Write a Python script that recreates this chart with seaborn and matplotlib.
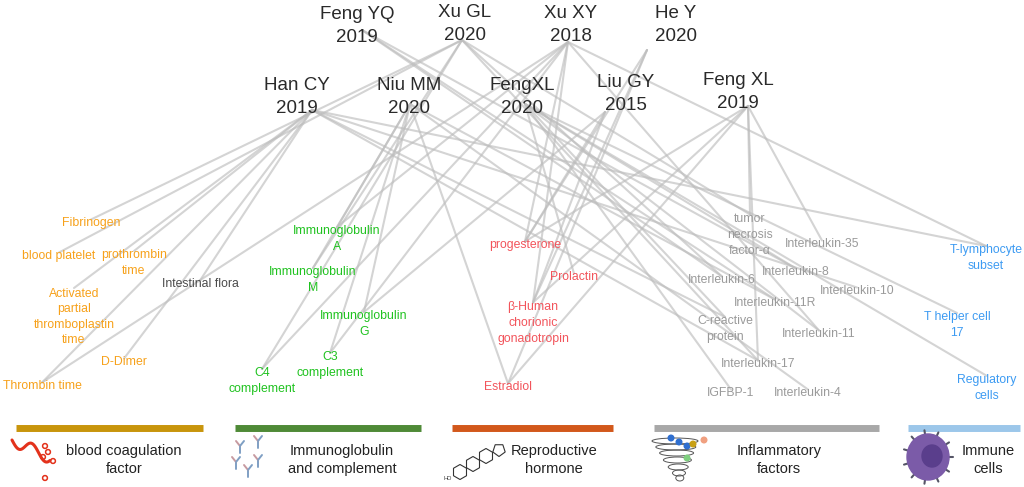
import numpy as np
import pandas as pd
import matplotlib
matplotlib.use("Agg")
import matplotlib.pyplot as plt
import seaborn as sns
from matplotlib.patches import Ellipse, Circle, RegularPolygon

# ---------------- data ----------------
authors = ["Feng YQ\n2019", "Xu GL\n2020", "Xu XY\n2018", "He Y\n2020",
           "Han CY\n2019", "Niu MM\n2020", "FengXL\n2020", "Liu GY\n2015", "Feng XL\n2019"]

factors = ["Fibrinogen", "blood platelet", "prothrombin\ntime",
           "Activated\npartial\nthromboplastin\ntime", "D-Dimer", "Thrombin time",
           "Intestinal flora",
           "Immunoglobulin\nA", "Immunoglobulin\nM", "Immunoglobulin\nG",
           "C3\ncomplement", "C4\ncomplement",
           "progesterone", "Prolactin", "β-Human\nchorionic\ngonadotropin", "Estradiol",
           "tumor\nnecrosis\nfactor-α", "Interleukin-35", "Interleukin-8", "Interleukin-6",
           "Interleukin-10", "Interleukin-11R", "C-reactive\nprotein", "Interleukin-11",
           "Interleukin-17", "IGFBP-1", "Interleukin-4",
           "T-lymphocyte\nsubset", "T helper cell\n17", "Regulatory\ncells"]

factor_group = ["coag"] * 6 + ["other"] + ["ig"] * 5 + ["rep"] * 4 + ["inf"] * 11 + ["imm"] * 3

edges = {
    "Feng YQ\n2019": ["Interleukin-8", "Interleukin-11R", "Interleukin-6"],
    "Xu GL\n2020": ["Fibrinogen", "blood platelet", "Immunoglobulin\nM", "C4\ncomplement",
                    "Interleukin-6", "Interleukin-17", "tumor\nnecrosis\nfactor-α"],
    "Xu XY\n2018": ["Immunoglobulin\nA", "C3\ncomplement", "C4\ncomplement", "Thrombin time",
                    "progesterone", "β-Human\nchorionic\ngonadotropin",
                    "T-lymphocyte\nsubset", "Interleukin-11"],
    "He Y\n2020": ["progesterone", "β-Human\nchorionic\ngonadotropin", "Estradiol"],
    "Han CY\n2019": ["prothrombin\ntime", "Activated\npartial\nthromboplastin\ntime", "D-Dimer",
                     "Thrombin time", "Intestinal flora", "C-reactive\nprotein",
                     "Interleukin-10", "T-lymphocyte\nsubset", "Interleukin-17"],
    "Niu MM\n2020": ["Immunoglobulin\nA", "Immunoglobulin\nM", "Immunoglobulin\nG",
                     "C3\ncomplement", "Estradiol", "Interleukin-4", "Interleukin-11R"],
    "FengXL\n2020": ["Prolactin", "IGFBP-1", "Interleukin-8", "Interleukin-11",
                     "Regulatory\ncells", "T helper cell\n17", "C-reactive\nprotein"],
    "Liu GY\n2015": ["progesterone", "β-Human\nchorionic\ngonadotropin", "Immunoglobulin\nG"],
    "Feng XL\n2019": ["tumor\nnecrosis\nfactor-α", "Interleukin-35", "Interleukin-17",
                      "progesterone", "β-Human\nchorionic\ngonadotropin", "Estradiol"],
}

legend_labels = ["blood coagulation\nfactor", "Immunoglobulin\nand complement",
                 "Reproductive\nhormone", "Inflammatory\nfactors", "Immune\ncells"]

# ---------------- layout (pixel space) ----------------
author_label_x = [357, 465, 571, 676, 297, 409, 522, 626, 738]
author_label_y = [26, 24, 25, 25, 97, 97, 97, 94, 92]
author_anchor_x = [362, 462, 568, 647, 312, 410, 525, 605, 748]
author_anchor_y = [30, 40, 42, 50, 110, 104, 104, 112, 106]

factor_x = [91, 59, 134, 74, 124, 42, 200, 337, 313, 364, 330, 262,
            525, 574, 533, 508,
            750, 822, 796, 722, 857, 775, 725, 819, 758, 731, 808,
            986, 957, 987]
factor_y = [223, 256, 263, 317, 362, 386, 284, 239, 280, 324, 365, 381,
            245, 277, 323, 387,
            235, 244, 272, 280, 291, 303, 329, 334, 364, 393, 393,
            258, 325, 388]

group_color = {"coag": "#F7A11A", "other": "#4A4A4A", "ig": "#1FC21F",
               "rep": "#F2545B", "inf": "#9A9A9A", "imm": "#3D9BF2"}
bar_colors = ["#C8950C", "#4F8A37", "#D2581B", "#A8A8A8", "#9CC7EA"]
bar_x0 = [16, 235, 452, 654, 908]
bar_x1 = [203, 421, 613, 879, 1020]
legend_text_x = [124, 342, 554, 779, 988]

# ---------------- edge table ----------------
a_idx = {a: i for i, a in enumerate(authors)}
f_idx = {f: i for i, f in enumerate(factors)}
rows = []
eid = 0
for a, fl in edges.items():
    i = a_idx[a]
    for f in fl:
        j = f_idx[f]
        nl = f.count("\n") + 1
        top = factor_y[j] - nl * 8.5 + 5
        rows.append((eid, author_anchor_x[i], author_anchor_y[i]))
        rows.append((eid, factor_x[j], top))
        eid += 1
edge_df = pd.DataFrame(rows, columns=["edge", "x", "y"])

# ---------------- plot ----------------
sns.set_theme(style="white")
plt.rcParams["font.family"] = ["Liberation Sans", "DejaVu Sans"]

fig = plt.figure(figsize=(10.24, 4.87), dpi=100)
ax = fig.add_axes([0, 0, 1, 1])

sns.lineplot(data=edge_df, x="x", y="y", units="edge", estimator=None, sort=False,
             color="#bdbdbd", alpha=0.65, lw=1.5, ax=ax, legend=False)

for lab, x, y in zip(authors, author_label_x, author_label_y):
    ax.text(x, y, lab, ha="center", va="center", fontsize=13.5, color="#2a2a2a",
            linespacing=1.45, zorder=5)

for lab, g, x, y in zip(factors, factor_group, factor_x, factor_y):
    ax.text(x, y, lab, ha="center", va="center", fontsize=8.8, color=group_color[g],
            linespacing=1.4, zorder=5)

# legend bars and texts
for c, x0, x1 in zip(bar_colors, bar_x0, bar_x1):
    ax.plot([x0, x1], [428, 428], color=c, lw=5, solid_capstyle="butt")
for lab, x in zip(legend_labels, legend_text_x):
    ax.text(x, 460, lab, ha="center", va="center", fontsize=10.5, color="#222222",
            linespacing=1.45)

# icon: blood coagulation
t = np.linspace(0, 1, 60)
ax.plot(12 + 38 * t, 440 + 18 * t + 6 * np.sin(t * 9), color="#E3321C", lw=2.2)
for cx, cy in [(45, 446), (48, 452), (43, 457), (53, 461), (45, 478)]:
    ax.add_patch(Circle((cx, cy), 2.4, fill=False, ec="#E3321C", lw=1.1))

# icon: antibodies
for cx, cy in [(240, 446), (258, 441), (236, 462), (258, 460), (248, 470)]:
    ax.plot([cx, cx], [cy, cy + 7], color="#7F9FC4", lw=1.4)
    ax.plot([cx, cx - 4], [cy, cy - 5], color="#C79AA0", lw=1.4)
    ax.plot([cx, cx + 4], [cy, cy - 5], color="#7F9FC4", lw=1.4)

# icon: steroid rings
for cx, cy in [(460, 472), (473, 464), (486, 456)]:
    ax.add_patch(RegularPolygon((cx, cy), 6, radius=7.5, orientation=0, fill=False,
                                ec="#333333", lw=0.8))
ax.add_patch(RegularPolygon((499, 450), 5, radius=6.5, fill=False, ec="#333333", lw=0.8))
ax.text(448, 478, "HO", fontsize=4, color="#333333", ha="center", va="center")

# icon: inflammatory tornado
for k, (w, cy) in enumerate([(46, 441), (40, 447), (34, 453), (28, 460), (20, 467), (13, 473), (8, 478)]):
    ax.add_patch(Ellipse((675 + k * 0.8, cy), w, 6, fill=False, ec="#555555", lw=0.7))
dot_x = [671, 679, 687, 693, 704, 687]
dot_y = [438, 442, 446, 444, 440, 458]
dot_c = ["#2F6FD0", "#2F6FD0", "#2F6FD0", "#C8A015", "#F0A080", "#7FCF7F"]
for cx, cy, c in zip(dot_x, dot_y, dot_c):
    ax.add_patch(Circle((cx, cy), 2.8, color=c, zorder=6))

# icon: immune cell
ax.add_patch(Ellipse((928, 457), 42, 46, color="#7B5BA8", zorder=4))
ax.add_patch(Ellipse((932, 456), 20, 22, color="#5A3E8C", zorder=5))
for ang in np.linspace(0, 2 * np.pi, 11, endpoint=False):
    x0, y0 = 928 + 21 * np.cos(ang), 457 + 23 * np.sin(ang)
    ax.plot([x0, x0 + 4 * np.cos(ang)], [y0, y0 + 4 * np.sin(ang)], color="#555566", lw=1.5, zorder=3)

ax.set_xlim(0, 1024)
ax.set_ylim(487, 0)
ax.axis("off")

fig.savefig("out.png", dpi=100)
